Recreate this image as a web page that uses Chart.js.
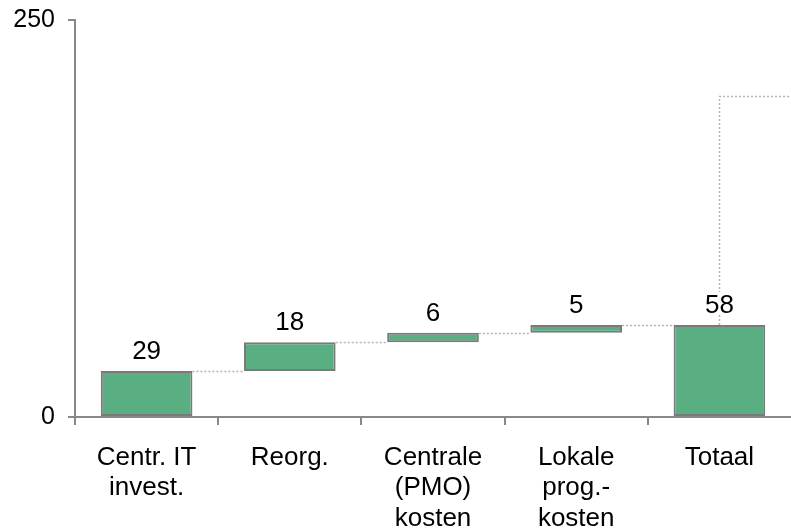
<!DOCTYPE html>
<html>
<head>
<meta charset="utf-8">
<script src="https://cdn.jsdelivr.net/npm/chart.js@4/dist/chart.umd.min.js"></script>
<style>
  html, body { margin: 0; padding: 0; background: #fff; }
  #wrap { width: 791px; height: 532px; }
</style>
</head>
<body>
<div id="wrap"><canvas id="wf"></canvas></div>
<script>
// data
const categories = [['Centr. IT', 'invest.'], 'Reorg.', ['Centrale', '(PMO)', 'kosten'], ['Lokale', 'prog.-', 'kosten'], 'Totaal'];
const steps = [29, 18, 6, 5];
const totalLabel = 58;
const yTicks = [0, 250];
const targetLevel = 202; // dotted line going off to the right

// build floating bars
const ranges = [];
let run = 0;
steps.forEach(s => { ranges.push([run, run + s]); run += s; });
ranges.push([0, run]);
const labels = steps.concat([totalLabel]);

const fontFam = '"Liberation Sans", Arial, sans-serif';

const connectors = {
  id: 'connectors',
  afterDatasetsDraw(chart) {
    const ctx = chart.ctx;
    const meta = chart.getDatasetMeta(0);
    const y = chart.scales.y;
    ctx.save();
    ctx.strokeStyle = '#b4b4b4';
    ctx.lineWidth = 1.5;
    ctx.setLineDash([2, 2]);
    for (let i = 0; i < meta.data.length - 1; i++) {
      const a = meta.data[i], b = meta.data[i + 1];
      const py = Math.round(y.getPixelForValue(ranges[i][1])) + 0.5;
      ctx.beginPath();
      ctx.moveTo(a.x + a.width / 2, py);
      ctx.lineTo(b.x - b.width / 2, py);
      ctx.stroke();
    }
    // last one: up from the total and off to the right
    const last = meta.data[meta.data.length - 1];
    const x0 = Math.round(last.x) + 0.5;
    const yTop = Math.round(y.getPixelForValue(targetLevel)) + 0.5;
    ctx.beginPath();
    ctx.moveTo(x0, y.getPixelForValue(run));
    ctx.lineTo(x0, yTop);
    ctx.lineTo(chart.width, yTop);
    ctx.stroke();
    ctx.restore();

    // value labels
    ctx.save();
    ctx.font = '26px ' + fontFam;
    ctx.textAlign = 'center';
    ctx.textBaseline = 'alphabetic';
    meta.data.forEach((bar, i) => {
      const top = y.getPixelForValue(ranges[i][1]);
      const txt = String(labels[i]);
      const w = ctx.measureText(txt).width;
      if (i === meta.data.length - 1) {
        ctx.fillStyle = '#fff';
        ctx.fillRect(bar.x - w / 2 - 2, top - 33, w + 4, 23);
      }
      ctx.fillStyle = '#000';
      ctx.fillText(txt, bar.x, top - 12);
    });
    ctx.restore();
  }
};

new Chart(document.getElementById('wf').getContext('2d'), {
  type: 'bar',
  data: {
    labels: categories,
    datasets: [{
      data: ranges,
      backgroundColor: '#5aaf82',
      borderColor: '#7a7a7a',
      borderWidth: 2,
      borderSkipped: false,
      categoryPercentage: 1,
      barPercentage: 0.64
    }]
  },
  options: {
    responsive: true,
    maintainAspectRatio: false,
    animation: false,
    layout: { padding: { top: 20, right: 0, left: 0, bottom: 0 } },
    plugins: { legend: { display: false }, tooltip: { enabled: false } },
    scales: {
      x: {
        grid: {
          display: true, drawOnChartArea: false, offset: true, tickLength: 8, lineWidth: 2,
          color: c => (c.type === 'tick' ? '#888' : 'rgba(0,0,0,0)')
        },
        border: { color: '#888', width: 2 },
        ticks: { color: '#000', font: { size: 26, family: fontFam, lineHeight: 1.18 }, padding: 17, maxRotation: 0, autoSkip: false },
        afterFit(s) { s.height = 115; s.paddingLeft = 0; s.paddingRight = 0; }
      },
      y: {
        min: 0,
        max: 250,
        afterBuildTicks(s) { s.ticks = yTicks.map(v => ({ value: v })); },
        grid: { display: true, drawOnChartArea: false, tickLength: 7, color: '#888', lineWidth: 2 },
        border: { color: '#888', width: 2 },
        ticks: { color: '#000', font: { size: 25, family: fontFam }, padding: 13 },
        afterFit(s) { s.width = 75; s.paddingTop = 0; s.paddingBottom = 0; }
      }
    }
  },
  plugins: [connectors]
});
</script>
</body>
</html>
